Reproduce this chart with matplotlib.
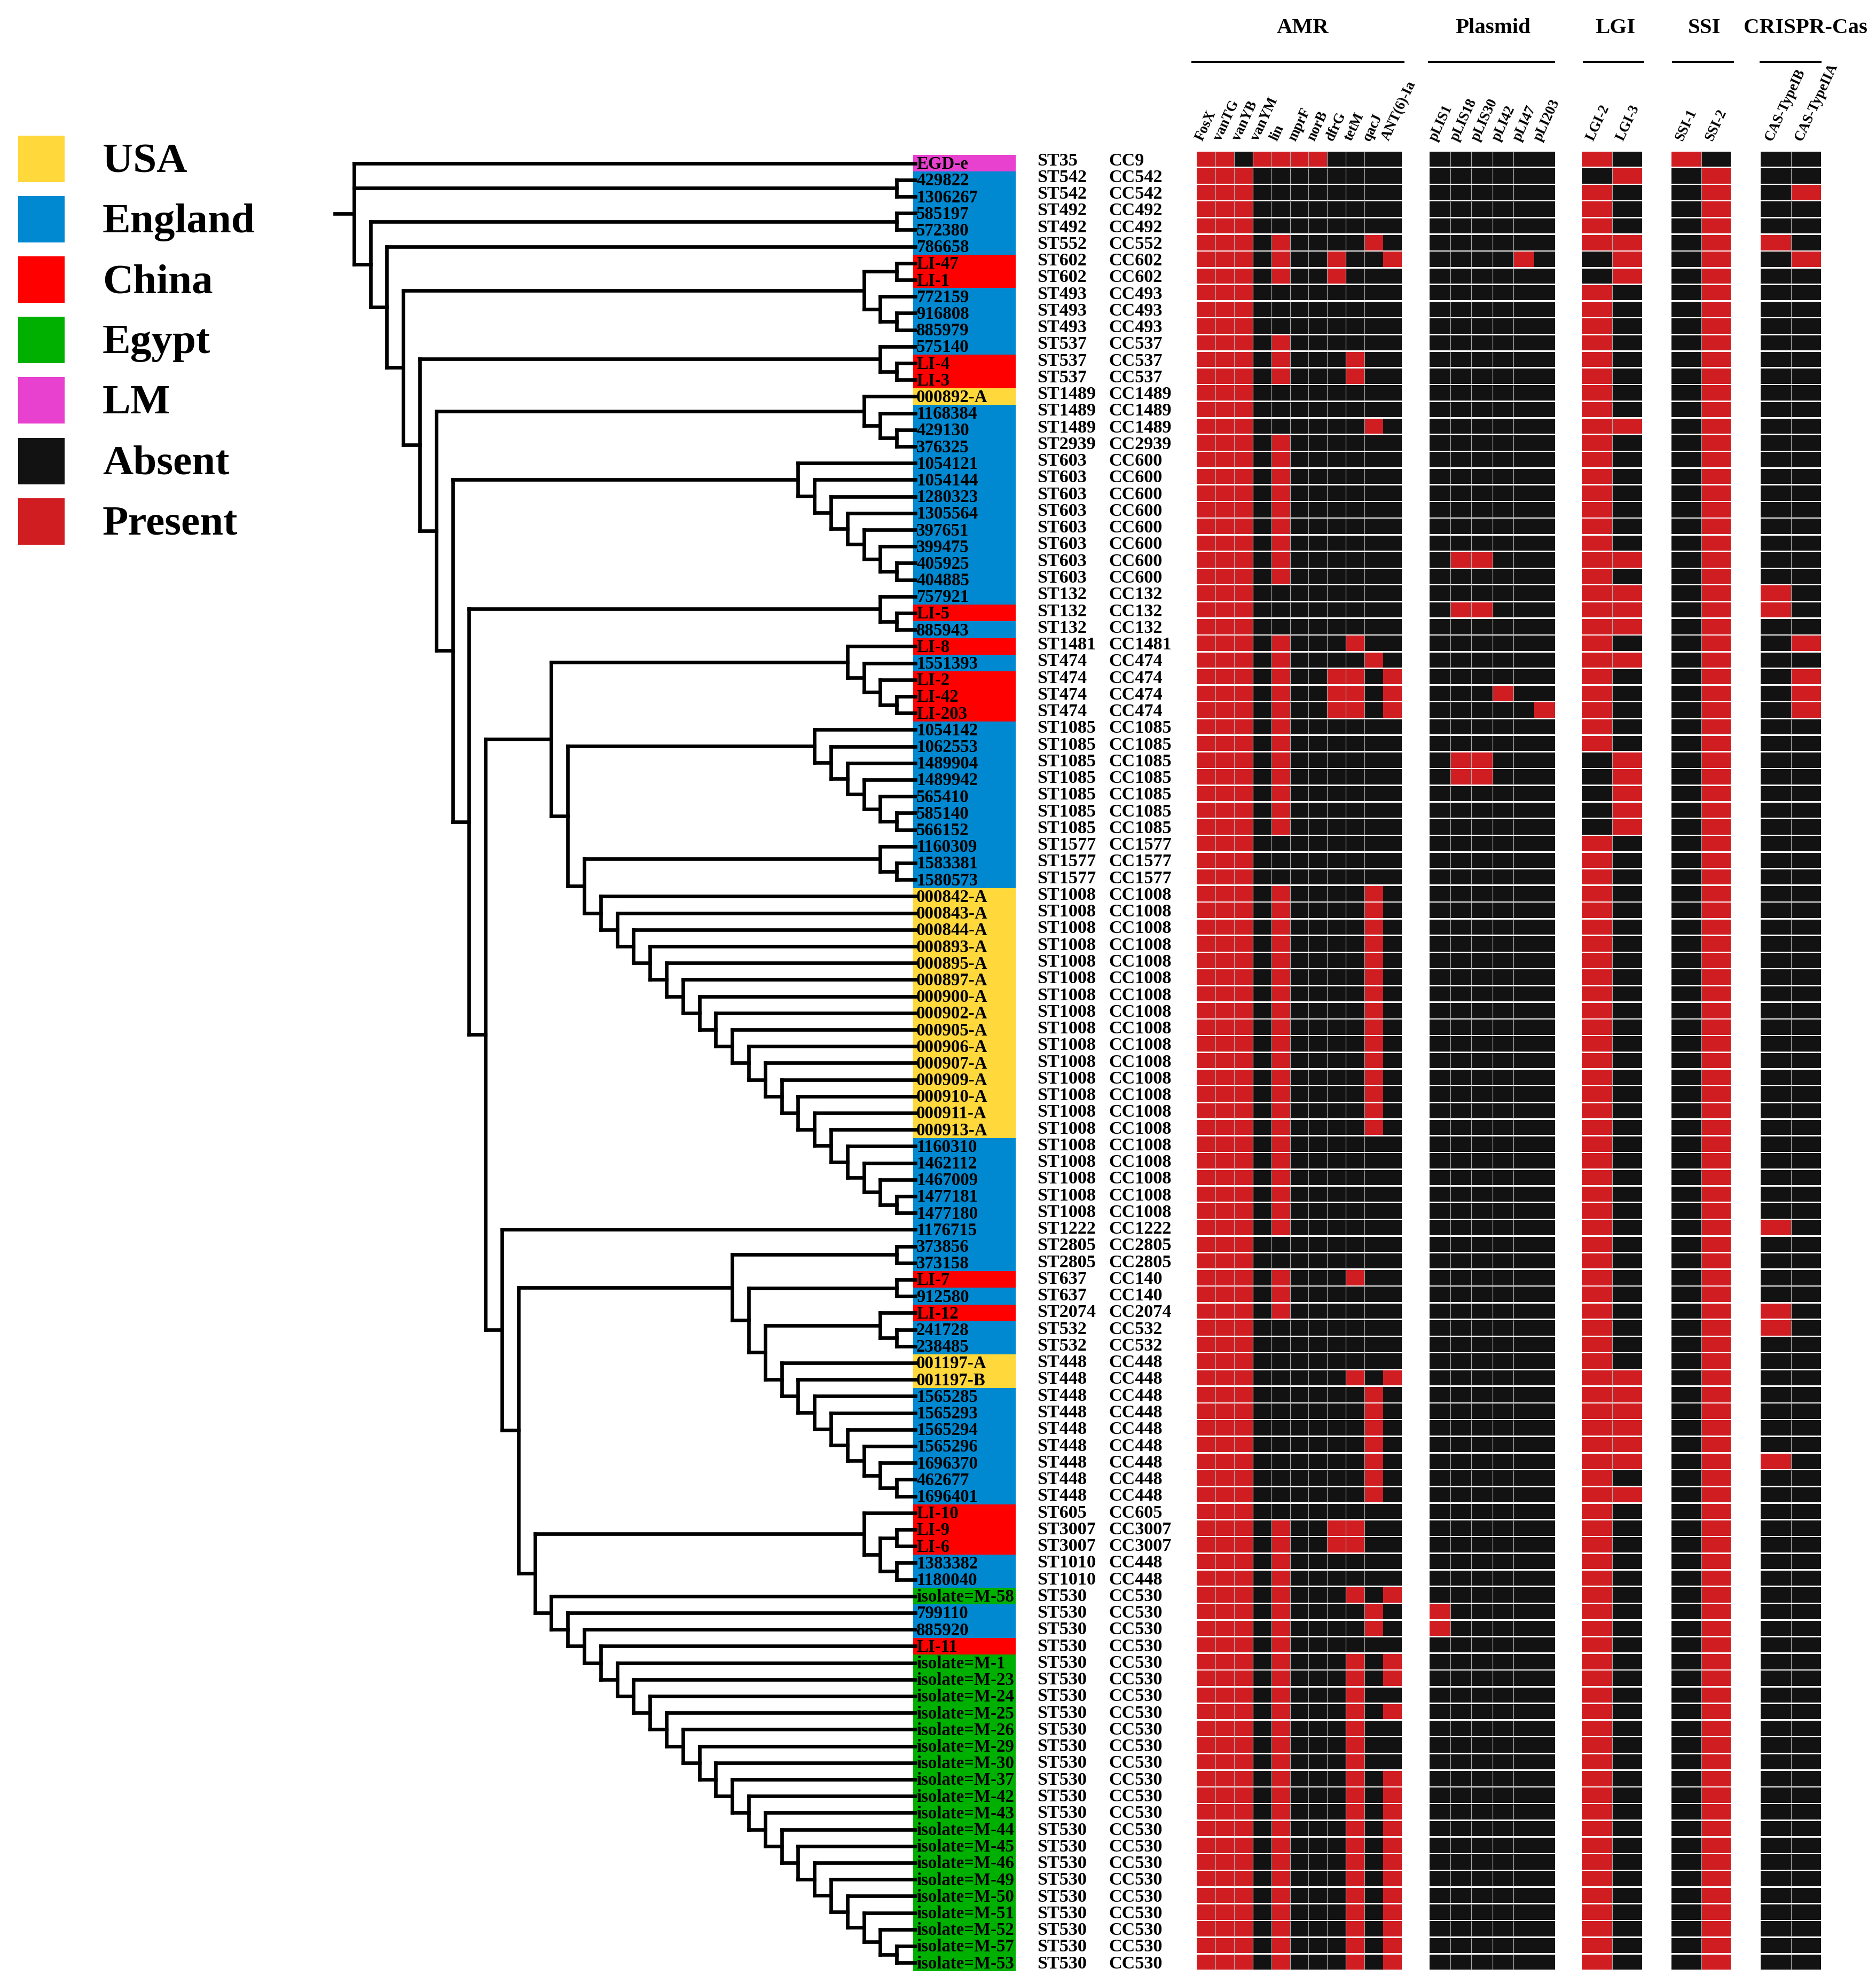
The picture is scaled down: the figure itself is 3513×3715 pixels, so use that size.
import numpy as np
import matplotlib.pyplot as plt
from matplotlib.collections import LineCollection
from matplotlib.patches import Rectangle

plt.rcParams['font.family'] = ['Liberation Serif', 'DejaVu Serif']

# ----- tree topology (newick pieces, leaf order = row order) -----
clade_D = "((LI-47,LI-1),(772159,(916808,885979)))"
clade_F = "(575140,(LI-4,LI-3))"
clade_H = "(000892-A,(1168384,(429130,376325)))"
clade_J = "(1054121,(1054144,(1280323,(1305564,(397651,(399475,(405925,404885))))) ))"
clade_L = "(757921,(LI-5,885943))"
clade_P = "(LI-8,(1551393,(LI-2,(LI-42,LI-203))))"
clade_R = "(1054142,(1062553,(1489904,(1489942,(565410,(585140,566152))))) )"
clade_T = "(1160309,(1583381,1580573))"
clade_U = ("(000842-A,(000843-A,(000844-A,(000893-A,(000895-A,(000897-A,(000900-A,"
           "(000902-A,(000905-A,(000906-A,(000907-A,(000909-A,(000910-A,(000911-A,"
           "(000913-A,(1160310,(1462112,(1467009,(1477181,1477180"
           "))))) ))))) ))))) ))))")
clade_AA = ("(001197-A,(001197-B,(1565285,(1565293,(1565294,(1565296,(1696370,"
            "(462677,1696401))))) )))")
clade_BB = "(LI-10,((LI-9,LI-6),(1383382,1180040)))"
clade_CC = ("(isolate=M-58,(799110,(885920,(LI-11,(isolate=M-1,(isolate=M-23,"
            "(isolate=M-24,(isolate=M-25,(isolate=M-26,(isolate=M-29,(isolate=M-30,"
            "(isolate=M-37,(isolate=M-42,(isolate=M-43,(isolate=M-44,(isolate=M-45,"
            "(isolate=M-46,(isolate=M-49,(isolate=M-50,(isolate=M-51,(isolate=M-52,"
            "(isolate=M-57,isolate=M-53"
            "))))) ))))) ))))) ))))) ))")
clade_Z = "((LI-12,(241728,238485))," + clade_AA + ")"
clade_Y = "((LI-7,912580)," + clade_Z + ")"
clade_W = "((373856,373158)," + clade_Y + ")"
clade_X = "(" + clade_BB + "," + clade_CC + ")"
clade_O = "(1176715,(" + clade_W + "," + clade_X + "))"
clade_N = "(" + clade_P + ",(" + clade_R + ",(" + clade_T + "," + clade_U + ")))"
clade_K = "(" + clade_L + ",(" + clade_N + "," + clade_O + "))"
clade_G = "(" + clade_H + ",(" + clade_J + "," + clade_K + "))"
clade_C = "(" + clade_D + ",(" + clade_F + "," + clade_G + "))"
newick = "(EGD-e,(429822,1306267),((585197,572380),(786658," + clade_C + ")));"

# ----- per isolate annotations (same order as tree leaves) -----
st_types = """
ST35 ST542 ST542 ST492 ST492 ST552 ST602 ST602 ST493 ST493
ST493 ST537 ST537 ST537 ST1489 ST1489 ST1489 ST2939 ST603 ST603
ST603 ST603 ST603 ST603 ST603 ST603 ST132 ST132 ST132 ST1481
ST474 ST474 ST474 ST474 ST1085 ST1085 ST1085 ST1085 ST1085 ST1085
ST1085 ST1577 ST1577 ST1577 ST1008 ST1008 ST1008 ST1008 ST1008 ST1008
ST1008 ST1008 ST1008 ST1008 ST1008 ST1008 ST1008 ST1008 ST1008 ST1008
ST1008 ST1008 ST1008 ST1008 ST1222 ST2805 ST2805 ST637 ST637 ST2074
ST532 ST532 ST448 ST448 ST448 ST448 ST448 ST448 ST448 ST448
ST448 ST605 ST3007 ST3007 ST1010 ST1010 ST530 ST530 ST530 ST530
ST530 ST530 ST530 ST530 ST530 ST530 ST530 ST530 ST530 ST530
ST530 ST530 ST530 ST530 ST530 ST530 ST530 ST530 ST530
""".split()

cc_types = """
CC9 CC542 CC542 CC492 CC492 CC552 CC602 CC602 CC493 CC493
CC493 CC537 CC537 CC537 CC1489 CC1489 CC1489 CC2939 CC600 CC600
CC600 CC600 CC600 CC600 CC600 CC600 CC132 CC132 CC132 CC1481
CC474 CC474 CC474 CC474 CC1085 CC1085 CC1085 CC1085 CC1085 CC1085
CC1085 CC1577 CC1577 CC1577 CC1008 CC1008 CC1008 CC1008 CC1008 CC1008
CC1008 CC1008 CC1008 CC1008 CC1008 CC1008 CC1008 CC1008 CC1008 CC1008
CC1008 CC1008 CC1008 CC1008 CC1222 CC2805 CC2805 CC140 CC140 CC2074
CC532 CC532 CC448 CC448 CC448 CC448 CC448 CC448 CC448 CC448
CC448 CC605 CC3007 CC3007 CC448 CC448 CC530 CC530 CC530 CC530
CC530 CC530 CC530 CC530 CC530 CC530 CC530 CC530 CC530 CC530
CC530 CC530 CC530 CC530 CC530 CC530 CC530 CC530 CC530
""".split()

country = """
LM EN EN EN EN EN CN CN EN EN
EN EN CN CN US EN EN EN EN EN
EN EN EN EN EN EN EN CN EN CN
EN CN CN CN EN EN EN EN EN EN
EN EN EN EN US US US US US US
US US US US US US US US US EN
EN EN EN EN EN EN EN CN EN CN
EN EN US US EN EN EN EN EN EN
EN CN CN CN EN EN EG EN EN CN
EG EG EG EG EG EG EG EG EG EG
EG EG EG EG EG EG EG EG EG
""".split()

# presence (1) / absence (0) per isolate
amr = """
11011110000 11100000000 11100000000 11100000000 11100000000 11101000010 11101001001 11101001000 11100000000 11100000000
11100000000 11101000000 11101000100 11101000100 11100000000 11100000000 11100000010 11101000000 11101000000 11101000000
11101000000 11101000000 11101000000 11101000000 11101000000 11101000000 11100000000 11100000000 11100000000 11101000100
11101000010 11101001101 11101001101 11101001101 11101000000 11101000000 11101000000 11101000000 11101000000 11101000000
11101000000 11100000000 11100000000 11100000000 11101000010 11101000010 11101000010 11101000010 11101000010 11101000010
11101000010 11101000010 11101000010 11101000010 11101000010 11101000010 11101000010 11101000010 11101000010 11101000000
11101000000 11101000000 11101000000 11101000000 11101000000 11100000000 11100000000 11101000100 11101000000 11101000000
11100000000 11100000000 11100000000 11100000101 11100000010 11100000010 11100000010 11100000010 11100000010 11100000010
11100000010 11100000000 11101001100 11101001100 11101000000 11101000000 11101000101 11101000010 11101000010 11101000000
11101000101 11101000101 11101000100 11101000101 11101000100 11101000100 11101000100 11101000101 11101000101 11101000101
11101000101 11101000101 11101000101 11101000101 11101000101 11101000101 11101000101 11101000101 11101000101
""".split()

plasmid = """
000000 000000 000000 000000 000000 000000 000010 000000 000000 000000
000000 000000 000000 000000 000000 000000 000000 000000 000000 000000
000000 000000 000000 000000 011000 000000 000000 011000 000000 000000
000000 000000 000100 000001 000000 000000 011000 011000 000000 000000
000000 000000 000000 000000 000000 000000 000000 000000 000000 000000
000000 000000 000000 000000 000000 000000 000000 000000 000000 000000
000000 000000 000000 000000 000000 000000 000000 000000 000000 000000
000000 000000 000000 000000 000000 000000 000000 000000 000000 000000
000000 000000 000000 000000 000000 000000 000000 100000 100000 000000
000000 000000 000000 000000 000000 000000 000000 000000 000000 000000
000000 000000 000000 000000 000000 000000 000000 000000 000000
""".split()

lgi = """
10 01 10 10 10 11 01 01 10 10
10 10 10 10 10 10 11 10 10 10
10 10 10 10 11 10 11 11 11 10
11 10 10 10 10 10 01 01 01 01
01 10 10 10 10 10 10 10 10 10
10 10 10 10 10 10 10 10 10 10
10 10 10 10 10 10 10 10 10 10
10 10 10 11 11 11 11 11 11 10
11 10 10 10 10 10 10 10 10 10
10 10 10 10 10 10 10 10 10 10
10 10 10 10 10 10 10 10 10
""".split()

ssi = """
10 01 01 01 01 01 01 01 01 01
01 01 01 01 01 01 01 01 01 01
01 01 01 01 01 01 01 01 01 01
01 01 01 01 01 01 01 01 01 01
01 01 01 01 01 01 01 01 01 01
01 01 01 01 01 01 01 01 01 01
01 01 01 01 01 01 01 01 01 01
01 01 01 01 01 01 01 01 01 01
01 01 01 01 01 01 01 01 01 01
01 01 01 01 01 01 01 01 01 01
01 01 01 01 01 01 01 01 01
""".split()

crispr = """
00 00 01 00 00 10 01 00 00 00
00 00 00 00 00 00 00 00 00 00
00 00 00 00 00 00 10 10 00 01
00 01 01 01 00 00 00 00 00 00
00 00 00 00 00 00 00 00 00 00
00 00 00 00 00 00 00 00 00 00
00 00 00 00 10 00 00 00 00 10
10 00 00 00 00 00 00 00 10 00
00 00 00 00 00 00 00 00 00 00
00 00 00 00 00 00 00 00 00 00
00 00 00 00 00 00 00 00 00
""".split()

amr_genes = ["FosX", "vanTG", "vanYB", "vanYM", "lin", "mprF", "norB", "dfrG", "tetM", "qacJ", "ANT(6)-Ia"]
plasmid_names = ["pLIS1", "pLIS18", "pLIS30", "pLI42", "pLI47", "pLI203"]
lgi_names = ["LGI-2", "LGI-3"]
ssi_names = ["SSI-1", "SSI-2"]
cas_names = ["CAS-TypeIB", "CAS-TypeIIA"]

legend_labels = ["USA", "England", "China", "Egypt", "LM", "Absent", "Present"]
legend_colors = ["#ffd83b", "#0089d1", "#ff0000", "#00b000", "#e840cf", "#121212", "#d01d22"]
country_colors = {"US": "#ffd83b", "EN": "#0089d1", "CN": "#ff0000", "EG": "#00b000", "LM": "#e840cf"}
col_present, col_absent = "#d01d22", "#121212"


def parse_newick(s):
    s = s.replace(" ", "")
    pos = 0

    def node():
        nonlocal pos
        if s[pos] == "(":
            pos += 1
            kids = [node()]
            while s[pos] == ",":
                pos += 1
                kids.append(node())
            pos += 1
            return kids
        start = pos
        while s[pos] not in ",();":
            pos += 1
        return s[start:pos]
    return node()


tree = parse_newick(newick)
n = len(st_types)

# ----- figure in pixel space -----
W, H = 3513, 3715
fig = plt.figure(figsize=(W / 300, H / 300), dpi=300)
ax = fig.add_axes([0, 0, 1, 1])
ax.set_xlim(0, W)
ax.set_ylim(H, 0)
ax.axis("off")

label_y = 305.6 + 31.2 * np.arange(n)      # name boxes / tree tips
cell_top = 283.7 + 31.26 * np.arange(n)    # heatmap rows
cell_h = 28.6
cell_y = cell_top + cell_h / 2

# ----- tree (cladogram, tips aligned) -----
leaf_x, step, tip_end = 1710, 30.8, 1714
segs = []
leaves = []


def place(nd):
    if isinstance(nd, str):
        leaves.append(nd)
        return label_y[len(leaves) - 1], 0
    pts = [place(c) for c in nd]
    h = max(p[1] for p in pts) + 1
    x = leaf_x - step * h
    for cy, ch in pts:
        x_end = tip_end if ch == 0 else leaf_x - step * ch
        segs.append([(x, cy), (x_end, cy)])
    ys = [p[0] for p in pts]
    segs.append([(x, min(ys)), (x, max(ys))])
    return (min(ys) + max(ys)) / 2, h


root_y, root_h = place(tree)
root_x = leaf_x - step * root_h
segs.append([(root_x - 36, root_y), (root_x, root_y)])
ax.add_collection(LineCollection(segs, colors="black", linewidths=1.6,
                                 capstyle="projecting", zorder=3))

# ----- name boxes coloured by country -----
ax.barh(label_y, 192, left=1710, height=31.5,
        color=[country_colors[c] for c in country], linewidth=0, zorder=1)
for y, name in zip(label_y, leaves):
    ax.text(1716, y + 10.5, name, fontsize=7.9, fontweight="bold",
            ha="left", va="baseline", zorder=4)
for y, st, cc in zip(cell_y, st_types, cc_types):
    ax.text(1942, y + 11.5, st, fontsize=8.2, fontweight="bold", ha="left", va="baseline")
    ax.text(2076, y + 11.5, cc, fontsize=8.2, fontweight="bold", ha="left", va="baseline")

# ----- presence / absence blocks -----
blocks = [
    dict(title="AMR", data=amr, names=amr_genes, left=2241, w=34.9,
         line=(2231, 2630), tx=2439, nodiv=10),
    dict(title="Plasmid", data=plasmid, names=plasmid_names, left=2677, w=39.2,
         line=(2674, 2912), tx=2796, nodiv=5),
    dict(title="LGI", data=lgi, names=lgi_names, left=2962, w=56.5,
         line=(2964, 3079), tx=3025, nodiv=None),
    dict(title="SSI", data=ssi, names=ssi_names, left=3130, w=55.5,
         line=(3131, 3247), tx=3191, nodiv=None),
    dict(title="CRISPR-Cas", data=crispr, names=cas_names, left=3297, w=56.5,
         line=(3295, 3411), tx=3381, nodiv=None),
]

for b in blocks:
    ncol = len(b["names"])
    for j in range(ncol):
        cols = [col_present if row[j] == "1" else col_absent for row in b["data"]]
        ax.barh(cell_y, b["w"], left=b["left"] + j * b["w"], height=cell_h,
                color=cols, linewidth=0, zorder=1)
        if j > 0 and j != b["nodiv"]:
            ax.vlines(np.full(n, b["left"] + j * b["w"]), cell_top, cell_top + cell_h,
                      colors="#a8a8a8", linewidth=0.3, zorder=2)
        ax.text(b["left"] + (j + 0.5) * b["w"] - 7, 265, b["names"][j],
                rotation=65, rotation_mode="anchor", ha="left", va="baseline",
                fontsize=6.4, fontweight="bold")
    ax.text(b["tx"], 62, b["title"], fontsize=9.8, fontweight="bold",
            ha="center", va="baseline")
    ax.plot(b["line"], [116, 116], color="black", lw=1.0, solid_capstyle="butt")

# ----- legend -----
for k, (lab, col) in enumerate(zip(legend_labels, legend_colors)):
    top = 254 + k * 113.1
    ax.add_patch(Rectangle((34, top), 87, 87, facecolor=col, edgecolor="none"))
    ax.text(192, top + 43.5 + 24.5, lab, fontsize=19, fontweight="bold",
            ha="left", va="baseline")

fig.savefig("out.png", dpi=300)
